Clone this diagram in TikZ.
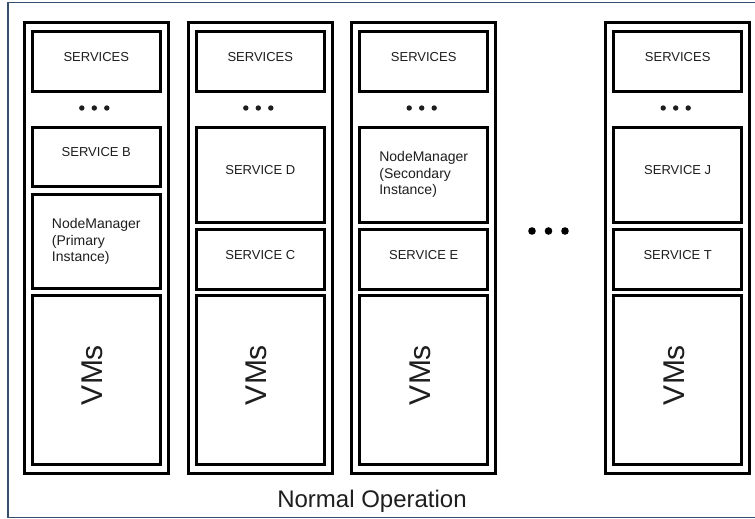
\documentclass[tikz,border=0pt]{standalone}
\usepackage{fontspec}
\setmainfont{Liberation Sans}
\usetikzlibrary{fit}
\definecolor{framecol}{HTML}{34506E}
\definecolor{txt}{HTML}{1E1E1E}
\tikzset{
  frame/.style={draw=framecol, line width=1.5pt, fill=white, inner sep=0pt},
  colbox/.style={draw=black, line width=3pt, inner sep=0pt},
  box/.style={draw=black, line width=3pt, inner sep=0pt, text=txt, font=\fontsize{13}{15}\selectfont},
  nm/.style={text=txt, font=\fontsize{14}{16.5}\selectfont, align=left, inner sep=0pt},
  vms/.style={rotate=90, text=txt, font=\fontsize{30}{30}\selectfont, inner sep=0pt},
  sdot/.style={circle, fill=txt, inner sep=0pt, minimum size=5.4pt},
  bdot/.style={circle, fill=black, inner sep=0pt, minimum size=7.6pt},
  caption/.style={text=txt, font=\fontsize{24}{26}\selectfont, inner sep=0pt},
}
\newcommand\mkcol[2]{%
  \pgfmathsetmacro\colXa{#2}%
  \pgfmathsetmacro\colXb{#2+144}%
  \pgfmathsetmacro\colIa{#2+8}%
  \pgfmathsetmacro\colIb{#2+136}%
  \pgfmathsetmacro\colCx{#2+72}%
  \node (#1) [colbox, fit={(\colXa,22.3) (\colXb,473.3)}] {};
  \node (#1s) [box, fit={(\colIa,31.3) (\colIb,91.3)}] {SERVICES};
  \node (#1d1) [sdot] at (\colCx-14.5,108) {};
  \node (#1d2) [sdot] at (\colCx-2,108) {};
  \node (#1d3) [sdot] at (\colCx+10.5,108) {};
  \node (#1v) [box, fit={(\colIa,295.3) (\colIb,464.3)}] {};
  \node (#1vt) [vms] at (\colCx-3.5,375) {VMs};
}
\begin{document}
\begin{tikzpicture}[x=1pt, y=-1pt]
\useasboundingbox (0,0) rectangle (755,519);
\node (frm) [frame, fit={(8,2.7) (770,517.5)}] {};

\mkcol{ca}{24.3}
\mkcol{cb}{188.3}
\mkcol{cc}{351.7}
\mkcol{cd}{605.7}

% column 1
\node (caB) [box, fit={(32.3,127) (160.3,186.7)}] {SERVICE B};
\node (caN) [box, fit={(32.3,194.2) (160.3,288.7)}] {};
\node (caNt) [nm] at (caN.center) {NodeManager\\(Primary\\Instance)};

% column 2
\node (cbD) [box, fit={(196.3,127) (324.3,222)}] {SERVICE D};
\node (cbC) [box, fit={(196.3,229.7) (324.3,289.5)}] {SERVICE C};

% column 3
\node (ccN) [box, fit={(359.7,127) (487.7,222)}] {};
\node (ccNt) [nm] at (ccN.center) {NodeManager\\(Secondary\\Instance)};
\node (ccE) [box, fit={(359.7,229.7) (487.7,289.5)}] {SERVICE E};

% column 4
\node (cdJ) [box, fit={(613.7,127) (741.7,222)}] {SERVICE J};
\node (cdT) [box, fit={(613.7,229.7) (741.7,289.5)}] {SERVICE T};

% middle ellipsis
\node (m1) [bdot] at (532,231) {};
\node (m2) [bdot] at (548.5,231) {};
\node (m3) [bdot] at (565,231) {};

\node (cap) [caption, anchor=base] at (372,507) {Normal Operation};
\end{tikzpicture}
\end{document}
